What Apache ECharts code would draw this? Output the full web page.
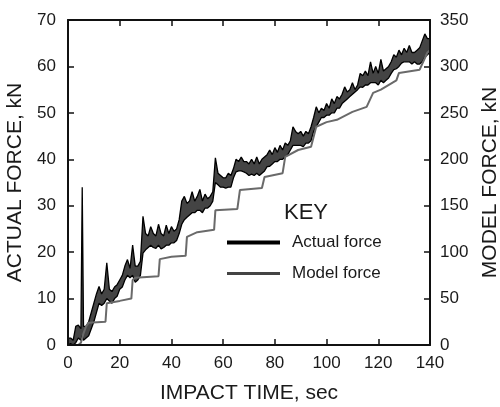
<!DOCTYPE html>
<html>
<head>
<meta charset="utf-8">
<script src="https://cdn.jsdelivr.net/npm/echarts@6/dist/echarts.min.js"></script>
<style>
html,body{margin:0;padding:0;background:#fff;}
#chart{width:500px;height:407px;}
</style>
</head>
<body>
<div id="chart"></div>
<script>
// Actual force (kN): band of the oscillating signal, upper and lower edges
const actualTime = [0,1,2,3,4,5,5.5,6,7,8,9,10,11,12,13,14,15,16,17,18,19,20,21,22,23,24,25,26,27,28,29,30,31,32,33,34,35,36,37,38,39,40,41,42,43,44,45,46,47,48,49,50,51,52,53,54,55,56,57,58,59,60,61,62,63,64,65,66,67,68,69,70,71,72,73,74,75,76,77,78,79,80,81,82,83,84,85,86,87,88,89,90,91,92,93,94,95,96,97,98,99,100,101,102,103,104,105,106,107,108,109,110,111,112,113,114,115,116,117,118,119,120,121,122,123,124,125,126,127,128,129,130,131,132,133,134,135,136,137,138,139,140];
const actualHigh = [1.5,1.5,1,4,4.3,3.5,34,4,4,5,7,9,11,12.6,11,12,17.7,12,11.5,12.5,13,14,15,17,18.4,16.5,21.5,17,17,18,27.7,24,23.5,25.5,24,23.5,26,24,23.5,25.8,24,25.5,24.5,25,27,31,32,30.5,31,33,31,32,33.5,31,32.5,31.5,32,33,40.3,37,36.5,36,36,37,36.5,38,40,39.5,40.5,39.5,39.5,39,40,39,40.5,39,40,40.5,41,42,41,42.5,41.5,43,42,43.5,43,44,47,46,45.5,46,45,46,45.5,47,49,51.3,50,51,50.5,52,51,53,52,53.5,53,54,55.6,54.5,55,56.5,55,56,58.5,58,59,58,61,58.5,60,58.5,61.5,59,59.5,60,61,62.5,62,63.5,62.5,63.9,63,64.5,63,63,63.5,64,65.5,67,66,66];
const actualLow = [0,0.3,0,0.5,1.5,1,2,1,1.5,2,3.5,5,7,9,8.5,9,10,9.5,9,10,10.5,12,12.5,14,15,14.5,15,13.5,14,15,19.8,20.5,21,21.5,21,20.8,21.5,20.7,21,21.5,21.5,22,22,22.5,24,26,27,27.5,28,28.5,28.5,29,29,28.5,29.5,29.5,30,31,35,34.5,34,34,33.8,34,34,36,37.3,37.5,37.5,37.3,37,36.5,36.8,36.5,37,36.5,37,37.5,38.4,38.5,39,39.5,39.5,40,40,40.5,41,42,43,43,43,43,42.7,43.5,43.5,44,46,47,48,49,49,49.5,49.5,50,50,51,51,52,52.5,53,53.5,54,54.5,55,55.6,55.5,56,56,56.5,56.5,56.5,56,57,56.5,57,57.5,58.5,59.3,59.5,60,60.7,61,61,61,60.5,61,60.5,60.5,61,62,62.5,63,63.5,64];

// Model force (kN, right axis)
const modelTime  = [0,4,5,6,7,8,14.5,15,20,24.5,25,26,35,35.5,40,45.5,46,50,56.5,57,65.5,66.5,75,76,83,84,89,94,96,100,104,110,115.5,118,121,127,128,136,139,140];
const modelForce = [0,0,2.5,12.5,20,24,25,45,47.5,50,70,72.5,74,92.5,95,96,116.5,121.5,124,145,146.5,167,169,181,185,202.5,210,213.5,235,240,242.5,251,256.5,271.5,275,285,293,296.5,315,317.5];

// Axis ticks
const xTicks = {min: 0, max: 140, interval: 20};
const yLeftTicks = {min: 0, max: 70, interval: 10};
const yRightTicks = {min: 0, max: 350, interval: 50};

const highData = actualTime.map((t, i) => [t, actualHigh[i]]);
const lowData = actualTime.map((t, i) => [t, actualLow[i]]);
const modelData = modelTime.map((t, i) => [t, modelForce[i]]);

const FONT = 'Liberation Sans, Arial, sans-serif';
const axisLineStyle = {color: '#111', width: 2};
const tickStyle = {show: true, inside: true, length: 6, lineStyle: {color: '#111', width: 1.5}};

const chart = echarts.init(document.getElementById('chart'), null, {renderer: 'canvas'});
chart.setOption({
  animation: false,
  backgroundColor: '#fff',
  textStyle: {fontFamily: FONT},
  title: {
    text: 'KEY', left: 279, top: 197,
    textStyle: {fontFamily: FONT, fontSize: 22, fontWeight: 'normal', color: '#1a1a1a'}
  },
  legend: {
    orient: 'vertical', left: 227, top: 234, padding: 0,
    itemWidth: 53, itemHeight: 14, itemGap: 14,
    textStyle: {fontFamily: FONT, fontSize: 17, color: '#1a1a1a', padding: [0, 0, 0, 7]},
    data: [
      {name: 'Actual force', icon: 'path://M0,5L53,5L53,9L0,9Z', itemStyle: {color: '#000'}},
      {name: 'Model force', icon: 'path://M0,5.5L53,5.5L53,8.5L0,8.5Z', itemStyle: {color: '#444'}}
    ]
  },
  grid: {left: 68, right: 70, top: 20, bottom: 62, containLabel: false, outerBoundsMode: 'none'},
  xAxis: [{
    type: 'value', position: 'bottom', min: xTicks.min, max: xTicks.max, interval: xTicks.interval, z: 10,
    axisLine: {show: true, onZero: false, lineStyle: axisLineStyle},
    axisTick: tickStyle,
    axisLabel: {fontFamily: FONT, fontSize: 17, color: '#1a1a1a', margin: 10},
    splitLine: {show: false},
    name: 'IMPACT TIME, sec', nameLocation: 'middle', nameGap: 38,
    nameTextStyle: {fontFamily: FONT, fontSize: 21, color: '#1a1a1a'}
  }, {
    type: 'value', position: 'top', min: xTicks.min, max: xTicks.max, interval: xTicks.interval, z: 10,
    axisLine: {show: true, onZero: false, lineStyle: axisLineStyle},
    axisTick: tickStyle,
    axisLabel: {show: false},
    splitLine: {show: false}
  }],
  yAxis: [{
    type: 'value', position: 'left', min: yLeftTicks.min, max: yLeftTicks.max, interval: yLeftTicks.interval, z: 10,
    axisLine: {show: true, onZero: false, lineStyle: axisLineStyle},
    axisTick: tickStyle,
    axisLabel: {fontFamily: FONT, fontSize: 17, color: '#1a1a1a', margin: 12},
    splitLine: {show: false},
    name: 'ACTUAL FORCE, kN', nameLocation: 'middle', nameGap: 34, nameRotate: 90,
    nameTextStyle: {fontFamily: FONT, fontSize: 21, color: '#1a1a1a'}
  }, {
    type: 'value', position: 'right', min: yRightTicks.min, max: yRightTicks.max, interval: yRightTicks.interval, z: 10,
    axisLine: {show: true, onZero: false, lineStyle: axisLineStyle},
    axisTick: tickStyle,
    axisLabel: {fontFamily: FONT, fontSize: 17, color: '#1a1a1a', margin: 10},
    splitLine: {show: false},
    name: 'MODEL FORCE, kN', nameLocation: 'middle', nameGap: 44, nameRotate: 90,
    nameTextStyle: {fontFamily: FONT, fontSize: 21, color: '#1a1a1a'}
  }],
  series: [{
    name: 'Actual force', type: 'line', xAxisIndex: 0, yAxisIndex: 0,
    data: highData, symbol: 'none', z: 2,
    lineStyle: {color: '#000', width: 1.3}, itemStyle: {color: '#000'},
    areaStyle: {color: '#444', opacity: 1}
  }, {
    name: 'Actual low', type: 'line', xAxisIndex: 0, yAxisIndex: 0,
    data: lowData, symbol: 'none', z: 3,
    lineStyle: {color: '#000', width: 1.3},
    areaStyle: {color: '#ffffff', opacity: 1}
  }, {
    name: 'Model force', type: 'line', xAxisIndex: 0, yAxisIndex: 1,
    data: modelData, symbol: 'none', z: 4,
    lineStyle: {color: '#6a6a6a', width: 2}, itemStyle: {color: '#444'}
  }]
});
</script>
</body>
</html>
